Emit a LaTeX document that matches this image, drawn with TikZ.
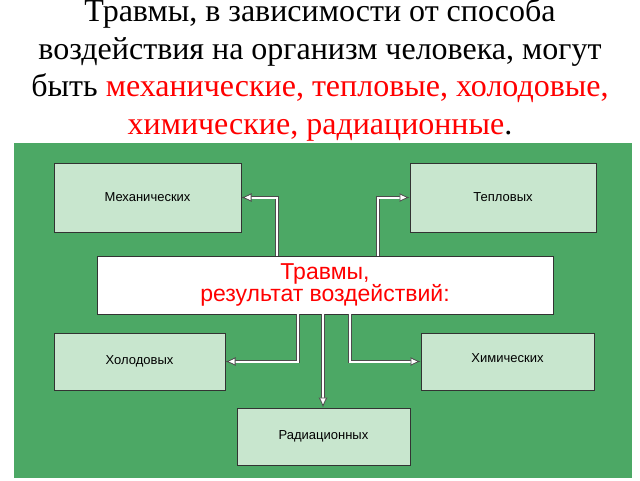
\documentclass[tikz,border=0pt]{standalone}
\usepackage{fontspec}
\setmainfont{Liberation Serif}
\newfontfamily\boxfont{Liberation Sans}
\usetikzlibrary{arrows.meta}
\begin{document}
\begin{tikzpicture}[x=1pt,y=-1pt,
  box/.style={draw=black!80,line width=1pt,inner sep=0pt,font=\boxfont\fontsize{13}{14}\selectfont},
  arr/.style={draw=black!70,double=white,double distance=2pt,line width=0.8pt,-{Latex[length=10pt,width=9pt,fill=white]}}]
\useasboundingbox (0,0) rectangle (640,480);
\fill[white] (0,0) rectangle (640,480);
\fill[fill={rgb,255:red,76;green,168;blue,101}] (14,143) rectangle (632,478);
\node[font=\fontsize{32}{37.5}\selectfont,align=center] (title) at (320,70) {Травмы, в зависимости от способа\\воздействия на организм человека, могут\\быть \textcolor{red}{механические, тепловые, холодовые,}\\\textcolor{red}{химические, радиационные}.};
\definecolor{bx}{RGB}{200,230,206}
\node[box,fill=bx,minimum width=187,minimum height=69] (m) at (147.5,197.5) {Механических};
\node[box,fill=bx,minimum width=186,minimum height=69] (t) at (503,197.5) {Тепловых};
\node[box,fill=white,minimum width=456,minimum height=58,align=center,text=red,font=\boxfont\fontsize{23}{21}\selectfont] (c) at (325,285) {Травмы,\\результат воздействий:};
\node[box,fill=bx,minimum width=171,minimum height=57] (h) at (139.5,361.5) {Холодовых};
\node[box,fill=bx,minimum width=173,minimum height=57] (x) at (507.5,361.5) {\raisebox{6pt}{Химических}};
\node[box,fill=bx,minimum width=173,minimum height=57] (r) at (323.5,436.5) {Радиационных};
\draw[arr] (277,256) |- (m.east);
\draw[arr] (378,256) |- (t.west);
\draw[arr] (298,314) |- (h.east);
\draw[arr] (350,314) |- (x.west);
\draw[arr] (323,314) -- (r.north -| 323,0);
\end{tikzpicture}
\end{document}
